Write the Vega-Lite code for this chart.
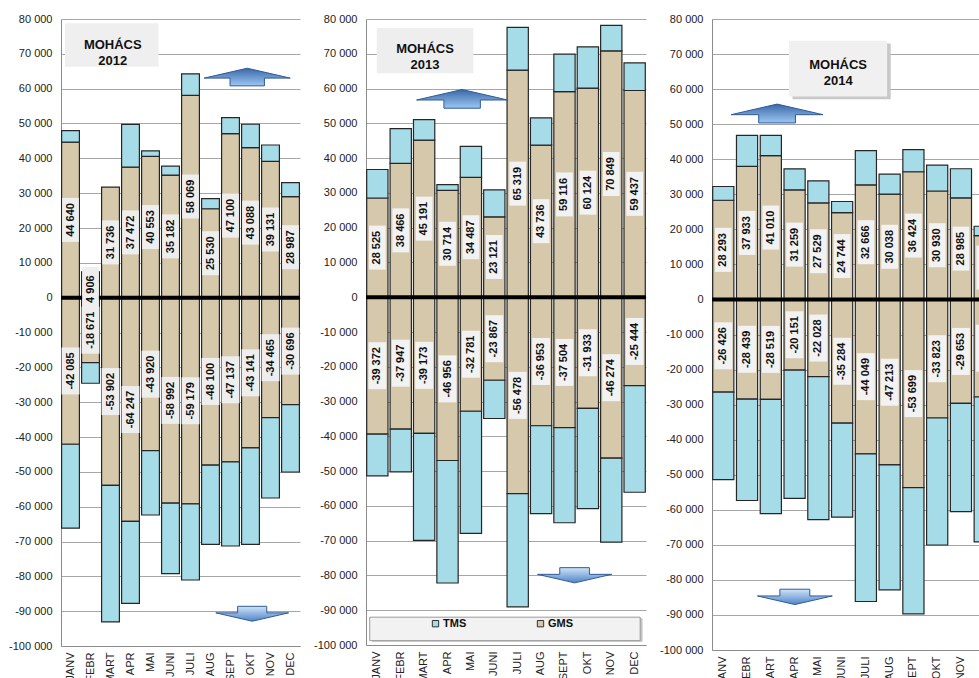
{
  "$schema": "https://vega.github.io/schema/vega-lite/v6.json",
  "background": "#ffffff",
  "padding": {"left": 8, "top": 13, "right": 0, "bottom": 0},
  "spacing": 11,
  "resolve": {"legend": {"color": "independent"}},
  "config": {
    "locale": {"number": {"decimal": ",", "thousands": "\u00a0", "grouping": [3], "currency": ["", ""], "minus": "-"}},
    "font": "Liberation Sans",
    "view": {"stroke": null},
    "axis": {"labelFont": "Liberation Sans", "labelFontSize": 11, "labelColor": "#222222", "domainColor": "#8c8c8c", "gridColor": "#a6a6a6", "ticks": false, "tickSize": 0},
    "axisX": {"labelPadding": 6, "labelOverlap": false},
    "axisY": {"labelPadding": 9, "labelOverlap": false, "tickCount": 19, "grid": true, "format": ",d"}
  },
  "datasets": {
    "mohacs": [
      {"year": 2012, "month": "JANV", "series": "GMS", "value": 44640}, {"year": 2012, "month": "JANV", "series": "TMS", "value": 3300},
      {"year": 2012, "month": "JANV", "series": "GMS", "value": -42085}, {"year": 2012, "month": "JANV", "series": "TMS", "value": -24100},
      {"year": 2012, "month": "FEBR", "series": "GMS", "value": 4906}, {"year": 2012, "month": "FEBR", "series": "TMS", "value": 2500},
      {"year": 2012, "month": "FEBR", "series": "GMS", "value": -18671}, {"year": 2012, "month": "FEBR", "series": "TMS", "value": -5900},
      {"year": 2012, "month": "MART", "series": "GMS", "value": 31736},
      {"year": 2012, "month": "MART", "series": "GMS", "value": -53902}, {"year": 2012, "month": "MART", "series": "TMS", "value": -39200},
      {"year": 2012, "month": "APR", "series": "GMS", "value": 37472}, {"year": 2012, "month": "APR", "series": "TMS", "value": 12300},
      {"year": 2012, "month": "APR", "series": "GMS", "value": -64247}, {"year": 2012, "month": "APR", "series": "TMS", "value": -23500},
      {"year": 2012, "month": "MAI", "series": "GMS", "value": 40553}, {"year": 2012, "month": "MAI", "series": "TMS", "value": 1600},
      {"year": 2012, "month": "MAI", "series": "GMS", "value": -43920}, {"year": 2012, "month": "MAI", "series": "TMS", "value": -18470},
      {"year": 2012, "month": "JUNI", "series": "GMS", "value": 35182}, {"year": 2012, "month": "JUNI", "series": "TMS", "value": 2560},
      {"year": 2012, "month": "JUNI", "series": "GMS", "value": -58992}, {"year": 2012, "month": "JUNI", "series": "TMS", "value": -20240},
      {"year": 2012, "month": "JULI", "series": "GMS", "value": 58069}, {"year": 2012, "month": "JULI", "series": "TMS", "value": 6200},
      {"year": 2012, "month": "JULI", "series": "GMS", "value": -59179}, {"year": 2012, "month": "JULI", "series": "TMS", "value": -21870},
      {"year": 2012, "month": "AUG", "series": "GMS", "value": 25530}, {"year": 2012, "month": "AUG", "series": "TMS", "value": 2900},
      {"year": 2012, "month": "AUG", "series": "GMS", "value": -48100}, {"year": 2012, "month": "AUG", "series": "TMS", "value": -22710},
      {"year": 2012, "month": "SEPT", "series": "GMS", "value": 47100}, {"year": 2012, "month": "SEPT", "series": "TMS", "value": 4600},
      {"year": 2012, "month": "SEPT", "series": "GMS", "value": -47137}, {"year": 2012, "month": "SEPT", "series": "TMS", "value": -24150},
      {"year": 2012, "month": "OKT", "series": "GMS", "value": 43088}, {"year": 2012, "month": "OKT", "series": "TMS", "value": 6700},
      {"year": 2012, "month": "OKT", "series": "GMS", "value": -43141}, {"year": 2012, "month": "OKT", "series": "TMS", "value": -27670},
      {"year": 2012, "month": "NOV", "series": "GMS", "value": 39131}, {"year": 2012, "month": "NOV", "series": "TMS", "value": 4700},
      {"year": 2012, "month": "NOV", "series": "GMS", "value": -34465}, {"year": 2012, "month": "NOV", "series": "TMS", "value": -23050},
      {"year": 2012, "month": "DEC", "series": "GMS", "value": 28987}, {"year": 2012, "month": "DEC", "series": "TMS", "value": 4060},
      {"year": 2012, "month": "DEC", "series": "GMS", "value": -30696}, {"year": 2012, "month": "DEC", "series": "TMS", "value": -19350},

      {"year": 2013, "month": "JANV", "series": "GMS", "value": 28525}, {"year": 2013, "month": "JANV", "series": "TMS", "value": 8200},
      {"year": 2013, "month": "JANV", "series": "GMS", "value": -39372}, {"year": 2013, "month": "JANV", "series": "TMS", "value": -11980},
      {"year": 2013, "month": "FEBR", "series": "GMS", "value": 38466}, {"year": 2013, "month": "FEBR", "series": "TMS", "value": 10000},
      {"year": 2013, "month": "FEBR", "series": "GMS", "value": -37947}, {"year": 2013, "month": "FEBR", "series": "TMS", "value": -12250},
      {"year": 2013, "month": "MART", "series": "GMS", "value": 45191}, {"year": 2013, "month": "MART", "series": "TMS", "value": 5900},
      {"year": 2013, "month": "MART", "series": "GMS", "value": -39173}, {"year": 2013, "month": "MART", "series": "TMS", "value": -30770},
      {"year": 2013, "month": "APR", "series": "GMS", "value": 30714}, {"year": 2013, "month": "APR", "series": "TMS", "value": 1670},
      {"year": 2013, "month": "APR", "series": "GMS", "value": -46956}, {"year": 2013, "month": "APR", "series": "TMS", "value": -35220},
      {"year": 2013, "month": "MAI", "series": "GMS", "value": 34487}, {"year": 2013, "month": "MAI", "series": "TMS", "value": 8880},
      {"year": 2013, "month": "MAI", "series": "GMS", "value": -32781}, {"year": 2013, "month": "MAI", "series": "TMS", "value": -35140},
      {"year": 2013, "month": "JUNI", "series": "GMS", "value": 23121}, {"year": 2013, "month": "JUNI", "series": "TMS", "value": 7720},
      {"year": 2013, "month": "JUNI", "series": "GMS", "value": -23867}, {"year": 2013, "month": "JUNI", "series": "TMS", "value": -11010},
      {"year": 2013, "month": "JULI", "series": "GMS", "value": 65319}, {"year": 2013, "month": "JULI", "series": "TMS", "value": 12270},
      {"year": 2013, "month": "JULI", "series": "GMS", "value": -56478}, {"year": 2013, "month": "JULI", "series": "TMS", "value": -32540},
      {"year": 2013, "month": "AUG", "series": "GMS", "value": 43736}, {"year": 2013, "month": "AUG", "series": "TMS", "value": 7830},
      {"year": 2013, "month": "AUG", "series": "GMS", "value": -36953}, {"year": 2013, "month": "AUG", "series": "TMS", "value": -25280},
      {"year": 2013, "month": "SEPT", "series": "GMS", "value": 59116}, {"year": 2013, "month": "SEPT", "series": "TMS", "value": 10760},
      {"year": 2013, "month": "SEPT", "series": "GMS", "value": -37504}, {"year": 2013, "month": "SEPT", "series": "TMS", "value": -27340},
      {"year": 2013, "month": "OKT", "series": "GMS", "value": 60124}, {"year": 2013, "month": "OKT", "series": "TMS", "value": 11880},
      {"year": 2013, "month": "OKT", "series": "GMS", "value": -31933}, {"year": 2013, "month": "OKT", "series": "TMS", "value": -28860},
      {"year": 2013, "month": "NOV", "series": "GMS", "value": 70849}, {"year": 2013, "month": "NOV", "series": "TMS", "value": 7320},
      {"year": 2013, "month": "NOV", "series": "GMS", "value": -46274}, {"year": 2013, "month": "NOV", "series": "TMS", "value": -24150},
      {"year": 2013, "month": "DEC", "series": "GMS", "value": 59437}, {"year": 2013, "month": "DEC", "series": "TMS", "value": 7940},
      {"year": 2013, "month": "DEC", "series": "GMS", "value": -25444}, {"year": 2013, "month": "DEC", "series": "TMS", "value": -30630},

      {"year": 2014, "month": "JANV", "series": "GMS", "value": 28293}, {"year": 2014, "month": "JANV", "series": "TMS", "value": 3930},
      {"year": 2014, "month": "JANV", "series": "GMS", "value": -26426}, {"year": 2014, "month": "JANV", "series": "TMS", "value": -25000},
      {"year": 2014, "month": "FEBR", "series": "GMS", "value": 37933}, {"year": 2014, "month": "FEBR", "series": "TMS", "value": 8880},
      {"year": 2014, "month": "FEBR", "series": "GMS", "value": -28439}, {"year": 2014, "month": "FEBR", "series": "TMS", "value": -28910},
      {"year": 2014, "month": "MART", "series": "GMS", "value": 41010}, {"year": 2014, "month": "MART", "series": "TMS", "value": 5800},
      {"year": 2014, "month": "MART", "series": "GMS", "value": -28519}, {"year": 2014, "month": "MART", "series": "TMS", "value": -32550},
      {"year": 2014, "month": "APR", "series": "GMS", "value": 31259}, {"year": 2014, "month": "APR", "series": "TMS", "value": 6010},
      {"year": 2014, "month": "APR", "series": "GMS", "value": -20151}, {"year": 2014, "month": "APR", "series": "TMS", "value": -36620},
      {"year": 2014, "month": "MAI", "series": "GMS", "value": 27529}, {"year": 2014, "month": "MAI", "series": "TMS", "value": 6310},
      {"year": 2014, "month": "MAI", "series": "GMS", "value": -22028}, {"year": 2014, "month": "MAI", "series": "TMS", "value": -40760},
      {"year": 2014, "month": "JUNI", "series": "GMS", "value": 24744}, {"year": 2014, "month": "JUNI", "series": "TMS", "value": 3190},
      {"year": 2014, "month": "JUNI", "series": "GMS", "value": -35284}, {"year": 2014, "month": "JUNI", "series": "TMS", "value": -26840},
      {"year": 2014, "month": "JULI", "series": "GMS", "value": 32666}, {"year": 2014, "month": "JULI", "series": "TMS", "value": 9760},
      {"year": 2014, "month": "JULI", "series": "GMS", "value": -44049}, {"year": 2014, "month": "JULI", "series": "TMS", "value": -42110},
      {"year": 2014, "month": "AUG", "series": "GMS", "value": 30038}, {"year": 2014, "month": "AUG", "series": "TMS", "value": 5710},
      {"year": 2014, "month": "AUG", "series": "GMS", "value": -47213}, {"year": 2014, "month": "AUG", "series": "TMS", "value": -35610},
      {"year": 2014, "month": "SEPT", "series": "GMS", "value": 36424}, {"year": 2014, "month": "SEPT", "series": "TMS", "value": 6290},
      {"year": 2014, "month": "SEPT", "series": "GMS", "value": -53699}, {"year": 2014, "month": "SEPT", "series": "TMS", "value": -35990},
      {"year": 2014, "month": "OKT", "series": "GMS", "value": 30930}, {"year": 2014, "month": "OKT", "series": "TMS", "value": 7390},
      {"year": 2014, "month": "OKT", "series": "GMS", "value": -33823}, {"year": 2014, "month": "OKT", "series": "TMS", "value": -36220},
      {"year": 2014, "month": "NOV", "series": "GMS", "value": 28985}, {"year": 2014, "month": "NOV", "series": "TMS", "value": 8290},
      {"year": 2014, "month": "NOV", "series": "GMS", "value": -29653}, {"year": 2014, "month": "NOV", "series": "TMS", "value": -30850},
      {"year": 2014, "month": "DEC", "series": "GMS", "value": 18186}, {"year": 2014, "month": "DEC", "series": "TMS", "value": 2690},
      {"year": 2014, "month": "DEC", "series": "GMS", "value": -27833}, {"year": 2014, "month": "DEC", "series": "TMS", "value": -41350}
    ]
  },
  "hconcat": [
    {
      "width": 239, "height": 627,
      "data": {"name": "mohacs"},
      "transform": [{"filter": "datum.year == 2012"}],
      "layer": [
        {
          "layer": [
            {
              "mark": {"type": "bar", "stroke": "#262626", "strokeWidth": 1.2},
              "encoding": {
                "x": {"field": "month", "type": "nominal", "sort": ["JANV", "FEBR", "MART", "APR", "MAI", "JUNI", "JULI", "AUG", "SEPT", "OKT", "NOV", "DEC"], "scale": {"paddingInner": 0.11, "paddingOuter": 0.03}, "axis": {"title": null, "labelAngle": -90}},
                "y": {"field": "value", "type": "quantitative", "stack": "zero", "scale": {"domain": [-100000, 80000], "nice": false}, "axis": {"title": null, "values": [-100000, -90000, -80000, -70000, -60000, -50000, -40000, -30000, -20000, -10000, 0, 10000, 20000, 30000, 40000, 50000, 60000, 70000, 80000], "tickCount": 19, "format": ",d", "grid": true, "labelOverlap": false}},
                "color": {"field": "series", "type": "nominal", "scale": {"domain": ["TMS", "GMS"], "range": ["#a6dce8", "#d6c8ab"]}, "legend": null},
                "order": {"field": "series", "type": "nominal", "sort": "ascending"}
              }
            },
            {"data": {"values": [{}]}, "mark": {"type": "rule", "color": "#000000", "strokeWidth": 4}, "encoding": {"y": {"datum": 0, "type": "quantitative", "axis": {"title": null, "values": [-100000, -90000, -80000, -70000, -60000, -50000, -40000, -30000, -20000, -10000, 0, 10000, 20000, 30000, 40000, 50000, 60000, 70000, 80000], "tickCount": 19, "format": ",d", "grid": true, "labelOverlap": false}}}},
            {
              "transform": [{"filter": "datum.series == 'GMS'"}, {"calculate": "datum.value / 2", "as": "mid"}],
              "mark": {"type": "point", "shape": "M-0.38,-1L0.38,-1L0.38,1L-0.38,1Z", "filled": true, "fill": "#eeeeee", "opacity": 1, "strokeWidth": 0},
              "encoding": {
                "x": {"field": "month", "type": "nominal", "sort": ["JANV", "FEBR", "MART", "APR", "MAI", "JUNI", "JULI", "AUG", "SEPT", "OKT", "NOV", "DEC"]},
                "y": {"field": "mid", "type": "quantitative", "axis": {"title": null, "values": [-100000, -90000, -80000, -70000, -60000, -50000, -40000, -30000, -20000, -10000, 0, 10000, 20000, 30000, 40000, 50000, 60000, 70000, 80000], "tickCount": 19, "format": ",d", "grid": true, "labelOverlap": false}},
                "size": {"condition": {"test": "datum.value < 0", "value": 2209}, "value": 1936}
              }
            },
            {
              "transform": [{"filter": "datum.series == 'GMS'"}, {"calculate": "datum.value / 2", "as": "mid"}],
              "mark": {"type": "text", "angle": 270, "font": "Liberation Sans", "fontSize": 11, "fontWeight": "bold", "fill": "#111111", "align": "center", "baseline": "middle"},
              "encoding": {
                "x": {"field": "month", "type": "nominal", "sort": ["JANV", "FEBR", "MART", "APR", "MAI", "JUNI", "JULI", "AUG", "SEPT", "OKT", "NOV", "DEC"]},
                "y": {"field": "mid", "type": "quantitative", "axis": {"title": null, "values": [-100000, -90000, -80000, -70000, -60000, -50000, -40000, -30000, -20000, -10000, 0, 10000, 20000, 30000, 40000, 50000, 60000, 70000, 80000], "tickCount": 19, "format": ",d", "grid": true, "labelOverlap": false}},
                "text": {"field": "value", "type": "quantitative", "format": ",d"}
              }
            }
          ]
        },
        {
          "data": {"values": [{}]},
          "layer": [
            {
              "mark": {"type": "rect", "fill": "#efefef"},
              "encoding": {
                "x": {"datum": 0.2, "type": "quantitative", "scale": {"domain": [0, 12], "nice": false, "zero": false}, "axis": null},
                "x2": {"datum": 4.9},
                "y": {"datum": 78800, "type": "quantitative", "axis": {"title": null, "values": [-100000, -90000, -80000, -70000, -60000, -50000, -40000, -30000, -20000, -10000, 0, 10000, 20000, 30000, 40000, 50000, 60000, 70000, 80000], "tickCount": 19, "format": ",d", "grid": true, "labelOverlap": false}},
                "y2": {"datum": 66300}
              }
            },
            {
              "mark": {"type": "text", "text": ["MOHÁCS", "2012"], "font": "Liberation Sans", "fontSize": 13, "fontWeight": "bold", "fill": "#111111", "lineHeight": 16, "align": "center", "baseline": "middle"},
              "encoding": {"x": {"datum": 2.6, "type": "quantitative", "axis": null}, "y": {"datum": 72500, "type": "quantitative", "axis": {"title": null, "values": [-100000, -90000, -80000, -70000, -60000, -50000, -40000, -30000, -20000, -10000, 0, 10000, 20000, 30000, 40000, 50000, 60000, 70000, 80000], "tickCount": 19, "format": ",d", "grid": true, "labelOverlap": false}}}
            },
            {
              "mark": {"type": "point", "shape": "M0,-0.2L1,0.03L0.4,0.03L0.4,0.21L-0.4,0.21L-0.4,0.03L-1,0.03Z", "size": 7400, "filled": true, "opacity": 1, "stroke": "#2f5b96", "strokeWidth": 1,
                "fill": {"gradient": "linear", "x1": 0, "y1": 0, "x2": 0, "y2": 1, "stops": [{"offset": 0, "color": "#3a68a8"}, {"offset": 1, "color": "#9cc6f2"}]}},
              "encoding": {"x": {"datum": 9.35, "type": "quantitative", "axis": null}, "y": {"datum": 63400, "type": "quantitative", "axis": {"title": null, "values": [-100000, -90000, -80000, -70000, -60000, -50000, -40000, -30000, -20000, -10000, 0, 10000, 20000, 30000, 40000, 50000, 60000, 70000, 80000], "tickCount": 19, "format": ",d", "grid": true, "labelOverlap": false}}}
            },
            {
              "mark": {"type": "point", "shape": "M0,0.2L1,-0.03L0.4,-0.03L0.4,-0.21L-0.4,-0.21L-0.4,-0.03L-1,-0.03Z", "size": 5300, "filled": true, "opacity": 1, "stroke": "#2f5b96", "strokeWidth": 1,
                "fill": {"gradient": "linear", "x1": 0, "y1": 0, "x2": 0, "y2": 1, "stops": [{"offset": 0, "color": "#cfe3f8"}, {"offset": 1, "color": "#4f84c8"}]}},
              "encoding": {"x": {"datum": 9.6, "type": "quantitative", "axis": null}, "y": {"datum": -90800, "type": "quantitative", "axis": {"title": null, "values": [-100000, -90000, -80000, -70000, -60000, -50000, -40000, -30000, -20000, -10000, 0, 10000, 20000, 30000, 40000, 50000, 60000, 70000, 80000], "tickCount": 19, "format": ",d", "grid": true, "labelOverlap": false}}}
            }
          ]
        }
      ],
      "resolve": {"scale": {"x": "independent"}}
    },
    {
      "width": 280, "height": 626,
      "data": {"name": "mohacs"},
      "transform": [{"filter": "datum.year == 2013"}],
      "layer": [
        {
          "layer": [
            {
              "mark": {"type": "bar", "stroke": "#262626", "strokeWidth": 1.2},
              "encoding": {
                "x": {"field": "month", "type": "nominal", "sort": ["JANV", "FEBR", "MART", "APR", "MAI", "JUNI", "JULI", "AUG", "SEPT", "OKT", "NOV", "DEC"], "scale": {"paddingInner": 0.09, "paddingOuter": 0.03}, "axis": {"title": null, "labelAngle": -90}},
                "y": {"field": "value", "type": "quantitative", "stack": "zero", "scale": {"domain": [-100000, 80000], "nice": false}, "axis": {"title": null, "values": [-100000, -90000, -80000, -70000, -60000, -50000, -40000, -30000, -20000, -10000, 0, 10000, 20000, 30000, 40000, 50000, 60000, 70000, 80000], "tickCount": 19, "format": ",d", "grid": true, "labelOverlap": false}},
                "color": {"field": "series", "type": "nominal", "scale": {"domain": ["TMS", "GMS"], "range": ["#a6dce8", "#d6c8ab"]},
                  "legend": {"orient": "none", "legendX": 64, "legendY": 599, "direction": "horizontal", "title": null, "symbolType": "square", "symbolSize": 40, "symbolStrokeColor": "#333333", "symbolStrokeWidth": 1, "labelFont": "Liberation Sans", "labelFontSize": 11, "labelFontWeight": "bold", "labelColor": "#111111", "labelOffset": 2, "columnPadding": 68, "padding": 0}},
                "order": {"field": "series", "type": "nominal", "sort": "ascending"}
              }
            },
            {"data": {"values": [{}]}, "mark": {"type": "rule", "color": "#000000", "strokeWidth": 4}, "encoding": {"y": {"datum": 0, "type": "quantitative", "axis": {"title": null, "values": [-100000, -90000, -80000, -70000, -60000, -50000, -40000, -30000, -20000, -10000, 0, 10000, 20000, 30000, 40000, 50000, 60000, 70000, 80000], "tickCount": 19, "format": ",d", "grid": true, "labelOverlap": false}}}},
            {
              "transform": [{"filter": "datum.series == 'GMS'"}, {"calculate": "datum.value / 2", "as": "mid"}],
              "mark": {"type": "point", "shape": "M-0.38,-1L0.38,-1L0.38,1L-0.38,1Z", "filled": true, "fill": "#f2f2f2", "opacity": 1, "strokeWidth": 0},
              "encoding": {
                "x": {"field": "month", "type": "nominal", "sort": ["JANV", "FEBR", "MART", "APR", "MAI", "JUNI", "JULI", "AUG", "SEPT", "OKT", "NOV", "DEC"]},
                "y": {"field": "mid", "type": "quantitative", "axis": {"title": null, "values": [-100000, -90000, -80000, -70000, -60000, -50000, -40000, -30000, -20000, -10000, 0, 10000, 20000, 30000, 40000, 50000, 60000, 70000, 80000], "tickCount": 19, "format": ",d", "grid": true, "labelOverlap": false}},
                "size": {"condition": {"test": "datum.value < 0", "value": 2209}, "value": 1936}
              }
            },
            {
              "transform": [{"filter": "datum.series == 'GMS'"}, {"calculate": "datum.value / 2", "as": "mid"}],
              "mark": {"type": "text", "angle": 270, "font": "Liberation Sans", "fontSize": 11, "fontWeight": "bold", "fill": "#111111", "align": "center", "baseline": "middle"},
              "encoding": {
                "x": {"field": "month", "type": "nominal", "sort": ["JANV", "FEBR", "MART", "APR", "MAI", "JUNI", "JULI", "AUG", "SEPT", "OKT", "NOV", "DEC"]},
                "y": {"field": "mid", "type": "quantitative", "axis": {"title": null, "values": [-100000, -90000, -80000, -70000, -60000, -50000, -40000, -30000, -20000, -10000, 0, 10000, 20000, 30000, 40000, 50000, 60000, 70000, 80000], "tickCount": 19, "format": ",d", "grid": true, "labelOverlap": false}},
                "text": {"field": "value", "type": "quantitative", "format": ",d"}
              }
            }
          ]
        },
        {
          "data": {"values": [{}]},
          "layer": [
            {
              "mark": {"type": "rect", "fill": "#eeeeee"},
              "encoding": {
                "x": {"datum": 0.46, "type": "quantitative", "scale": {"domain": [0, 12], "nice": false, "zero": false}, "axis": null},
                "x2": {"datum": 4.6},
                "y": {"datum": 77400, "type": "quantitative", "axis": {"title": null, "values": [-100000, -90000, -80000, -70000, -60000, -50000, -40000, -30000, -20000, -10000, 0, 10000, 20000, 30000, 40000, 50000, 60000, 70000, 80000], "tickCount": 19, "format": ",d", "grid": true, "labelOverlap": false}},
                "y2": {"datum": 64400}
              }
            },
            {
              "mark": {"type": "text", "text": ["MOHÁCS", "2013"], "font": "Liberation Sans", "fontSize": 13, "fontWeight": "bold", "fill": "#111111", "lineHeight": 16, "align": "center", "baseline": "middle"},
              "encoding": {"x": {"datum": 2.53, "type": "quantitative", "axis": null}, "y": {"datum": 71300, "type": "quantitative", "axis": {"title": null, "values": [-100000, -90000, -80000, -70000, -60000, -50000, -40000, -30000, -20000, -10000, 0, 10000, 20000, 30000, 40000, 50000, 60000, 70000, 80000], "tickCount": 19, "format": ",d", "grid": true, "labelOverlap": false}}}
            },
            {
              "mark": {"type": "point", "shape": "M0,-0.2L1,0.03L0.4,0.03L0.4,0.21L-0.4,0.21L-0.4,0.03L-1,0.03Z", "size": 8300, "filled": true, "opacity": 1, "stroke": "#2f5b96", "strokeWidth": 1,
                "fill": {"gradient": "linear", "x1": 0, "y1": 0, "x2": 0, "y2": 1, "stops": [{"offset": 0, "color": "#3a68a8"}, {"offset": 1, "color": "#9cc6f2"}]}},
              "encoding": {"x": {"datum": 4.12, "type": "quantitative", "axis": null}, "y": {"datum": 57100, "type": "quantitative", "axis": {"title": null, "values": [-100000, -90000, -80000, -70000, -60000, -50000, -40000, -30000, -20000, -10000, 0, 10000, 20000, 30000, 40000, 50000, 60000, 70000, 80000], "tickCount": 19, "format": ",d", "grid": true, "labelOverlap": false}}}
            },
            {
              "mark": {"type": "point", "shape": "M0,0.2L1,-0.03L0.4,-0.03L0.4,-0.21L-0.4,-0.21L-0.4,-0.03L-1,-0.03Z", "size": 5500, "filled": true, "opacity": 1, "stroke": "#2f5b96", "strokeWidth": 1,
                "fill": {"gradient": "linear", "x1": 0, "y1": 0, "x2": 0, "y2": 1, "stops": [{"offset": 0, "color": "#cfe3f8"}, {"offset": 1, "color": "#4f84c8"}]}},
              "encoding": {"x": {"datum": 8.94, "type": "quantitative", "axis": null}, "y": {"datum": -80000, "type": "quantitative", "axis": {"title": null, "values": [-100000, -90000, -80000, -70000, -60000, -50000, -40000, -30000, -20000, -10000, 0, 10000, 20000, 30000, 40000, 50000, 60000, 70000, 80000], "tickCount": 19, "format": ",d", "grid": true, "labelOverlap": false}}}
            },
            {
              "mark": {"type": "rect", "fill": "#c2c2c2"},
              "encoding": {"x": {"datum": 0.26, "type": "quantitative", "axis": null}, "x2": {"datum": 11.85}, "y": {"datum": -92300, "type": "quantitative", "axis": {"title": null, "values": [-100000, -90000, -80000, -70000, -60000, -50000, -40000, -30000, -20000, -10000, 0, 10000, 20000, 30000, 40000, 50000, 60000, 70000, 80000], "tickCount": 19, "format": ",d", "grid": true, "labelOverlap": false}}, "y2": {"datum": -99100}}
            },
            {
              "mark": {"type": "rect", "fill": "#f2f2f2", "stroke": "#9a9a9a", "strokeWidth": 1},
              "encoding": {"x": {"datum": 0.16, "type": "quantitative", "axis": null}, "x2": {"datum": 11.75}, "y": {"datum": -92000, "type": "quantitative", "axis": {"title": null, "values": [-100000, -90000, -80000, -70000, -60000, -50000, -40000, -30000, -20000, -10000, 0, 10000, 20000, 30000, 40000, 50000, 60000, 70000, 80000], "tickCount": 19, "format": ",d", "grid": true, "labelOverlap": false}}, "y2": {"datum": -98750}}
            }
          ]
        }
      ],
      "resolve": {"scale": {"x": "independent"}}
    },
    {
      "width": 284, "height": 631,
      "data": {"name": "mohacs"},
      "transform": [{"filter": "datum.year == 2014"}],
      "layer": [
        {
          "layer": [
            {
              "mark": {"type": "bar", "stroke": "#262626", "strokeWidth": 1.2},
              "encoding": {
                "x": {"field": "month", "type": "nominal", "sort": ["JANV", "FEBR", "MART", "APR", "MAI", "JUNI", "JULI", "AUG", "SEPT", "OKT", "NOV", "DEC"], "scale": {"paddingInner": 0.11, "paddingOuter": 0.03}, "axis": {"title": null, "labelAngle": -90}},
                "y": {"field": "value", "type": "quantitative", "stack": "zero", "scale": {"domain": [-100000, 80000], "nice": false}, "axis": {"title": null, "values": [-100000, -90000, -80000, -70000, -60000, -50000, -40000, -30000, -20000, -10000, 0, 10000, 20000, 30000, 40000, 50000, 60000, 70000, 80000], "tickCount": 19, "format": ",d", "grid": true, "labelOverlap": false}},
                "color": {"field": "series", "type": "nominal", "scale": {"domain": ["TMS", "GMS"], "range": ["#a6dce8", "#d6c8ab"]}, "legend": null},
                "order": {"field": "series", "type": "nominal", "sort": "ascending"}
              }
            },
            {"data": {"values": [{}]}, "mark": {"type": "rule", "color": "#000000", "strokeWidth": 4}, "encoding": {"y": {"datum": 0, "type": "quantitative", "axis": {"title": null, "values": [-100000, -90000, -80000, -70000, -60000, -50000, -40000, -30000, -20000, -10000, 0, 10000, 20000, 30000, 40000, 50000, 60000, 70000, 80000], "tickCount": 19, "format": ",d", "grid": true, "labelOverlap": false}}}},
            {
              "transform": [{"filter": "datum.series == 'GMS'"}, {"calculate": "datum.value / 2", "as": "mid"}],
              "mark": {"type": "point", "shape": "M-0.38,-1L0.38,-1L0.38,1L-0.38,1Z", "filled": true, "fill": "#f2f2f2", "opacity": 1, "strokeWidth": 0},
              "encoding": {
                "x": {"field": "month", "type": "nominal", "sort": ["JANV", "FEBR", "MART", "APR", "MAI", "JUNI", "JULI", "AUG", "SEPT", "OKT", "NOV", "DEC"]},
                "y": {"field": "mid", "type": "quantitative", "axis": {"title": null, "values": [-100000, -90000, -80000, -70000, -60000, -50000, -40000, -30000, -20000, -10000, 0, 10000, 20000, 30000, 40000, 50000, 60000, 70000, 80000], "tickCount": 19, "format": ",d", "grid": true, "labelOverlap": false}},
                "size": {"condition": {"test": "datum.value < 0", "value": 2209}, "value": 1936}
              }
            },
            {
              "transform": [{"filter": "datum.series == 'GMS'"}, {"calculate": "datum.value / 2", "as": "mid"}],
              "mark": {"type": "text", "angle": 270, "font": "Liberation Sans", "fontSize": 11, "fontWeight": "bold", "fill": "#111111", "align": "center", "baseline": "middle"},
              "encoding": {
                "x": {"field": "month", "type": "nominal", "sort": ["JANV", "FEBR", "MART", "APR", "MAI", "JUNI", "JULI", "AUG", "SEPT", "OKT", "NOV", "DEC"]},
                "y": {"field": "mid", "type": "quantitative", "axis": {"title": null, "values": [-100000, -90000, -80000, -70000, -60000, -50000, -40000, -30000, -20000, -10000, 0, 10000, 20000, 30000, 40000, 50000, 60000, 70000, 80000], "tickCount": 19, "format": ",d", "grid": true, "labelOverlap": false}},
                "text": {"field": "value", "type": "quantitative", "format": ",d"}
              }
            }
          ]
        },
        {
          "data": {"values": [{}]},
          "layer": [
            {
              "mark": {"type": "rect", "fill": "#c8c8c8"},
              "encoding": {
                "x": {"datum": 3.4, "type": "quantitative", "scale": {"domain": [0, 12], "nice": false, "zero": false}, "axis": null},
                "x2": {"datum": 7.55},
                "y": {"datum": 73000, "type": "quantitative", "axis": {"title": null, "values": [-100000, -90000, -80000, -70000, -60000, -50000, -40000, -30000, -20000, -10000, 0, 10000, 20000, 30000, 40000, 50000, 60000, 70000, 80000], "tickCount": 19, "format": ",d", "grid": true, "labelOverlap": false}},
                "y2": {"datum": 57100}
              }
            },
            {
              "mark": {"type": "rect", "fill": "#f0f0f0"},
              "encoding": {"x": {"datum": 3.25, "type": "quantitative", "axis": null}, "x2": {"datum": 7.4}, "y": {"datum": 73800, "type": "quantitative", "axis": {"title": null, "values": [-100000, -90000, -80000, -70000, -60000, -50000, -40000, -30000, -20000, -10000, 0, 10000, 20000, 30000, 40000, 50000, 60000, 70000, 80000], "tickCount": 19, "format": ",d", "grid": true, "labelOverlap": false}}, "y2": {"datum": 57900}}
            },
            {
              "mark": {"type": "text", "text": ["MOHÁCS", "2014"], "font": "Liberation Sans", "fontSize": 13, "fontWeight": "bold", "fill": "#111111", "lineHeight": 16, "align": "center", "baseline": "middle"},
              "encoding": {"x": {"datum": 5.33, "type": "quantitative", "axis": null}, "y": {"datum": 67000, "type": "quantitative", "axis": {"title": null, "values": [-100000, -90000, -80000, -70000, -60000, -50000, -40000, -30000, -20000, -10000, 0, 10000, 20000, 30000, 40000, 50000, 60000, 70000, 80000], "tickCount": 19, "format": ",d", "grid": true, "labelOverlap": false}}}
            },
            {
              "mark": {"type": "point", "shape": "M0,-0.2L1,0.03L0.4,0.03L0.4,0.21L-0.4,0.21L-0.4,0.03L-1,0.03Z", "size": 8450, "filled": true, "opacity": 1, "stroke": "#2f5b96", "strokeWidth": 1,
                "fill": {"gradient": "linear", "x1": 0, "y1": 0, "x2": 0, "y2": 1, "stops": [{"offset": 0, "color": "#3a68a8"}, {"offset": 1, "color": "#9cc6f2"}]}},
              "encoding": {"x": {"datum": 2.75, "type": "quantitative", "axis": null}, "y": {"datum": 53100, "type": "quantitative", "axis": {"title": null, "values": [-100000, -90000, -80000, -70000, -60000, -50000, -40000, -30000, -20000, -10000, 0, 10000, 20000, 30000, 40000, 50000, 60000, 70000, 80000], "tickCount": 19, "format": ",d", "grid": true, "labelOverlap": false}}}
            },
            {
              "mark": {"type": "point", "shape": "M0,0.2L1,-0.03L0.4,-0.03L0.4,-0.21L-0.4,-0.21L-0.4,-0.03L-1,-0.03Z", "size": 5600, "filled": true, "opacity": 1, "stroke": "#2f5b96", "strokeWidth": 1,
                "fill": {"gradient": "linear", "x1": 0, "y1": 0, "x2": 0, "y2": 1, "stops": [{"offset": 0, "color": "#cfe3f8"}, {"offset": 1, "color": "#4f84c8"}]}},
              "encoding": {"x": {"datum": 3.5, "type": "quantitative", "axis": null}, "y": {"datum": -84900, "type": "quantitative", "axis": {"title": null, "values": [-100000, -90000, -80000, -70000, -60000, -50000, -40000, -30000, -20000, -10000, 0, 10000, 20000, 30000, 40000, 50000, 60000, 70000, 80000], "tickCount": 19, "format": ",d", "grid": true, "labelOverlap": false}}}
            }
          ]
        }
      ],
      "resolve": {"scale": {"x": "independent"}}
    }
  ]
}
